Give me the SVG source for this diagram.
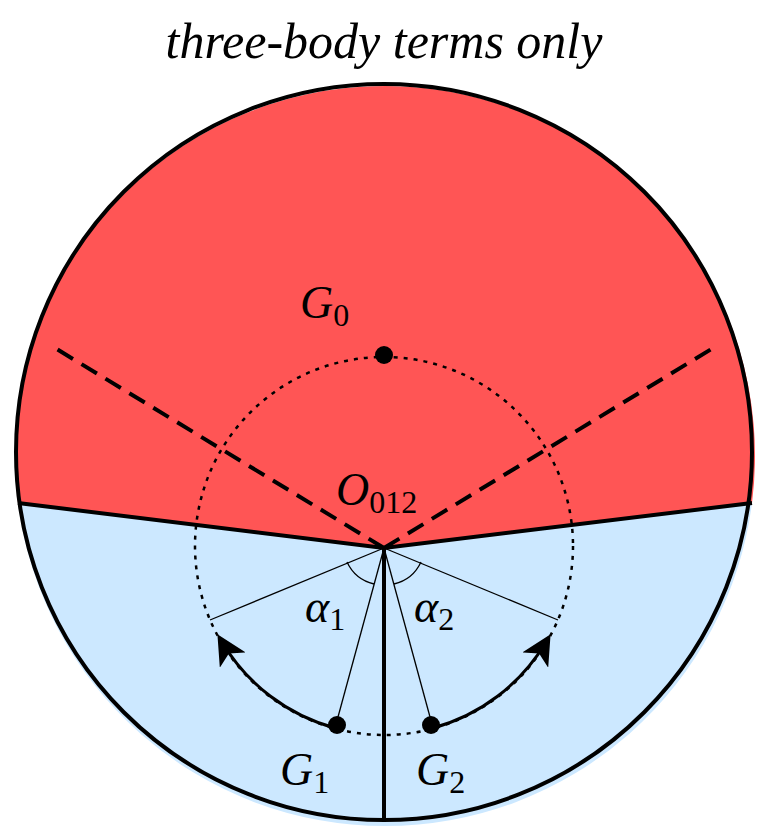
<svg xmlns="http://www.w3.org/2000/svg" width="763" height="828" viewBox="0 0 763 828">
<defs>
<style>
.lbl{font-family:"Liberation Serif","DejaVu Serif",serif;font-style:italic;font-size:46px;fill:#000}
.sub{font-style:normal;font-size:32px}
.thin{stroke:#000;stroke-width:1.3;fill:none}
</style>
<marker id="ah" viewBox="0 0 20 20" refX="14" refY="10" markerWidth="30" markerHeight="30" markerUnits="userSpaceOnUse" orient="auto"><path d="M0,0 L20,10 L0,20 L5,10 Z" fill="#000"/></marker>
</defs>
<rect width="763" height="828" fill="#fff"/>
<text x="384" y="58" text-anchor="middle" class="lbl" style="font-size:50px">three-body terms only</text>
<g id="regions">
<path d="M18,503 A370,370 0 1 1 752,503 L384,548 Z" fill="#FF5555"/>
<path d="M18,503 L384,548 L752,503 A370,370 0 0 1 18,503 Z" fill="#CCE8FF"/>
</g>
<g id="connectors">
<path d="M18,503 L384,548 L752,503" stroke="#000" stroke-width="4" fill="none"/>
<line x1="384" y1="548" x2="384" y2="822" stroke="#000" stroke-width="4"/>
<line x1="384" y1="548" x2="55" y2="348" stroke="#000" stroke-width="4" stroke-dasharray="18,10"/>
<line x1="384" y1="548" x2="718" y2="345" stroke="#000" stroke-width="4" stroke-dasharray="18,10"/>
<circle cx="384" cy="546" r="189" fill="none" stroke="#000" stroke-width="2.5" stroke-dasharray="4,6"/>
<line x1="384" y1="548" x2="210" y2="620" class="thin"/>
<line x1="384" y1="548" x2="558" y2="620" class="thin"/>
<line x1="384" y1="548" x2="335" y2="728" class="thin"/>
<line x1="384" y1="548" x2="433" y2="728" class="thin"/>
<path d="M347,562 A40,40 0 0 0 374,584" class="thin"/>
<path d="M421,562 A40,40 0 0 1 394,584" class="thin"/>
<path d="M335,728 A189,189 0 0 1 222,642" stroke="#000" stroke-width="3" fill="none" marker-end="url(#ah)"/>
<path d="M433,728 A189,189 0 0 0 546,642" stroke="#000" stroke-width="3" fill="none" marker-end="url(#ah)"/>
</g>
<circle cx="384" cy="452" r="368" fill="none" stroke="#000" stroke-width="4"/>
<g id="G0"><circle cx="384" cy="355" r="9"/><text x="300" y="318" class="lbl">G<tspan class="sub" dy="8">0</tspan></text></g>
<g id="O012"><text x="336" y="505" class="lbl">O<tspan class="sub" dy="8">012</tspan></text></g>
<g id="G1"><circle cx="337" cy="725" r="9"/><text x="280" y="785" class="lbl">G<tspan class="sub" dy="8">1</tspan></text></g>
<g id="G2"><circle cx="431" cy="725" r="9"/><text x="416" y="785" class="lbl">G<tspan class="sub" dy="8">2</tspan></text></g>
<g id="a1"><text x="305" y="622" class="lbl">α<tspan class="sub" dy="8">1</tspan></text></g>
<g id="a2"><text x="414" y="622" class="lbl">α<tspan class="sub" dy="8">2</tspan></text></g>
</svg>
